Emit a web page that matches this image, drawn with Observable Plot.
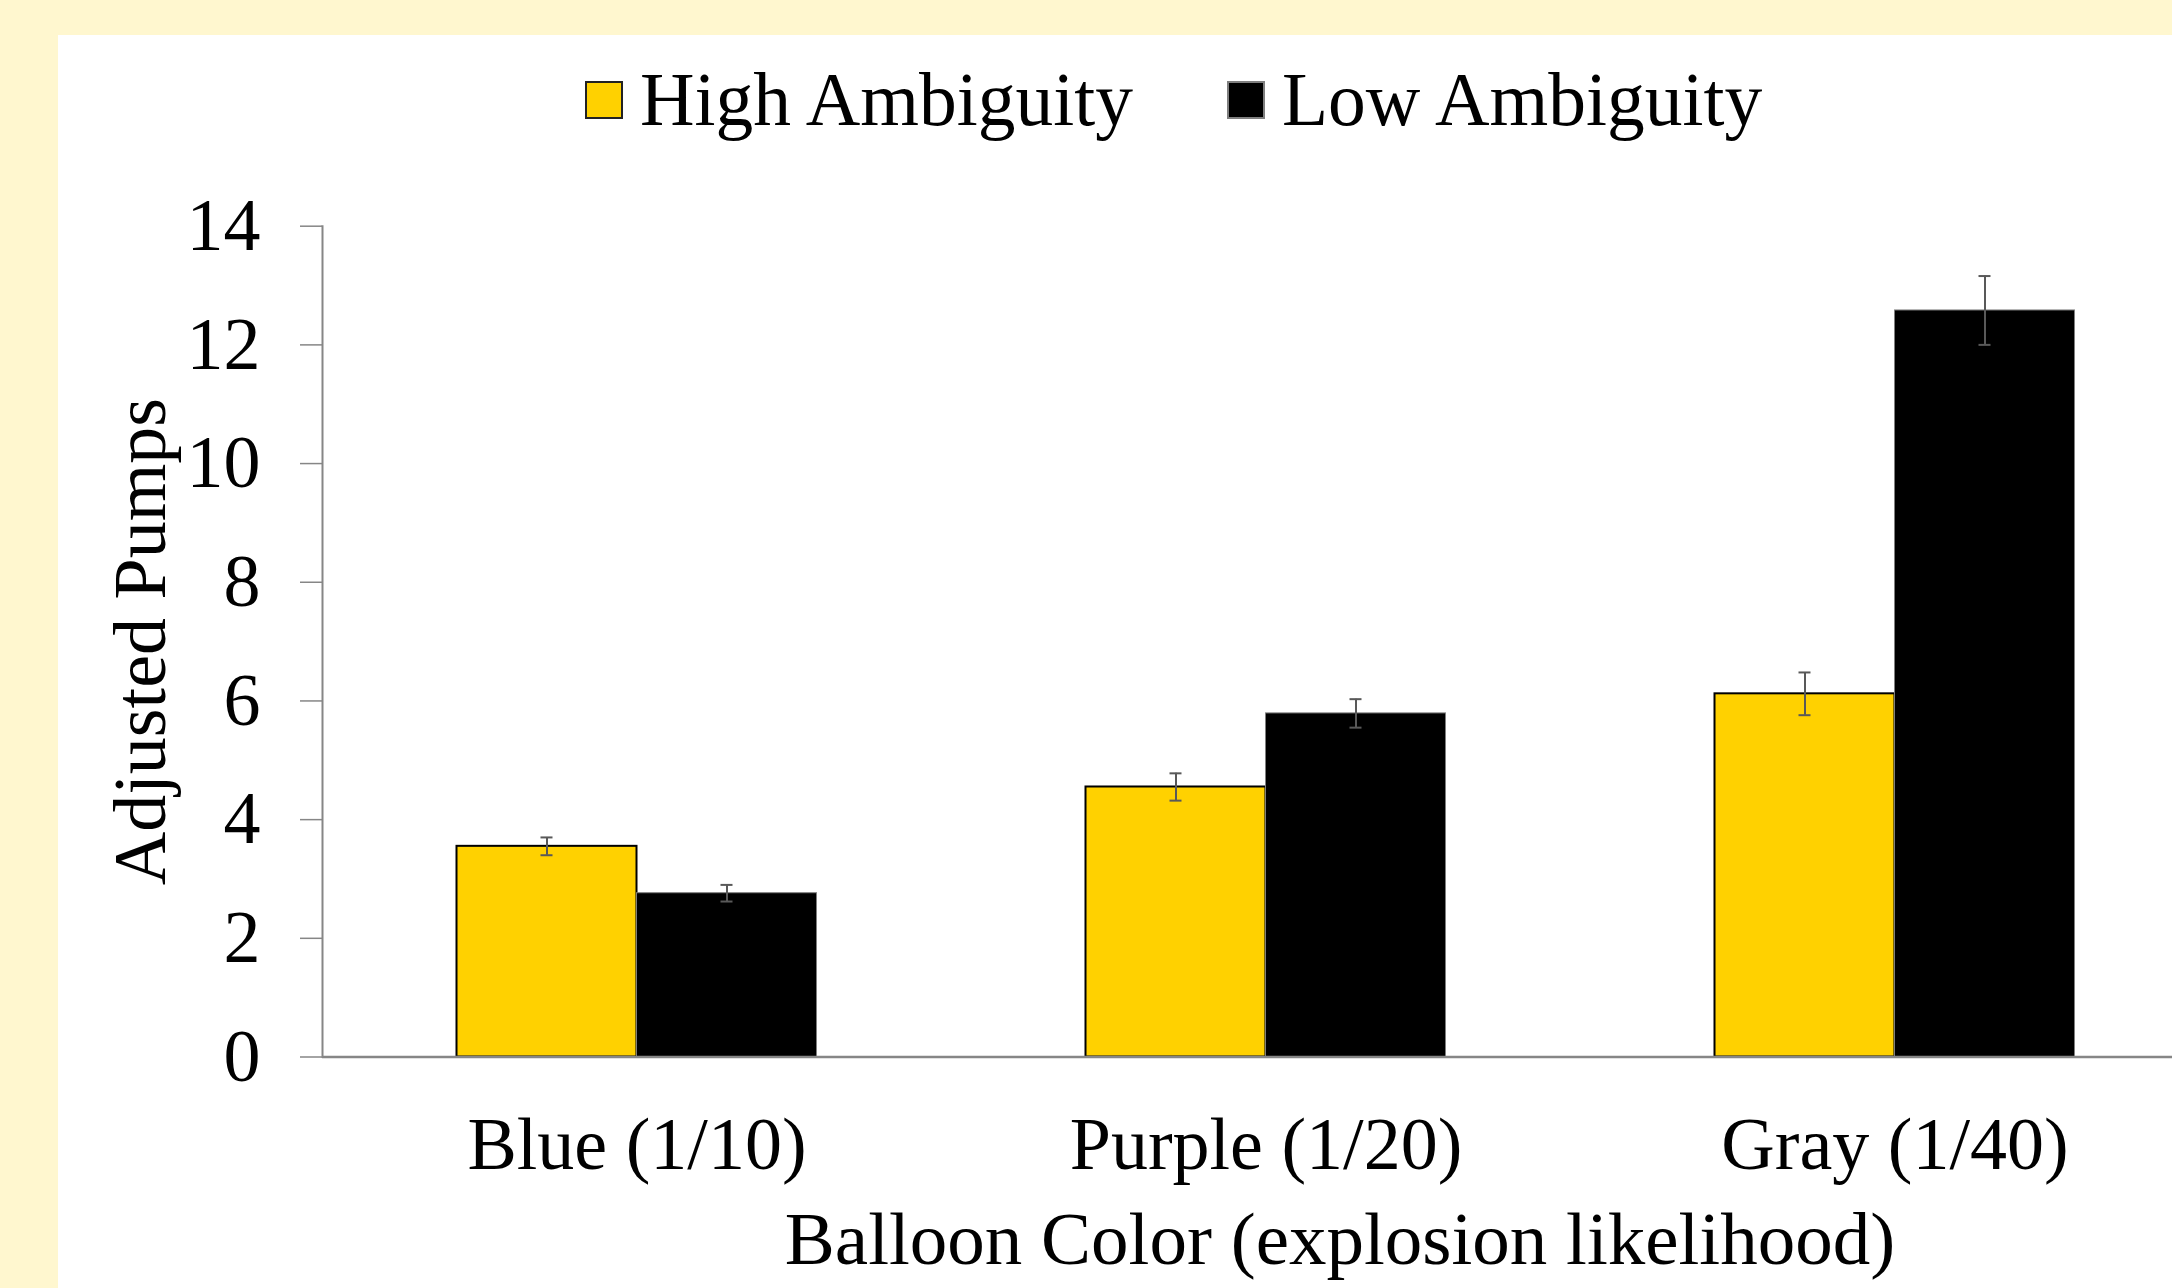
<!DOCTYPE html>
<html>
<head>
<meta charset="utf-8">
<script src="https://cdn.jsdelivr.net/npm/d3@7"></script>
<script src="https://cdn.jsdelivr.net/npm/@observablehq/plot@0.6"></script>
<style>
  html, body { margin: 0; padding: 0; background: #FFF7CF; width: 2172px; height: 1288px; overflow: hidden; }
  #panel { position: absolute; left: 58px; top: 35px; width: 2114px; height: 1253px; background: #fff; overflow: hidden;
           font-family: "Liberation Serif", "Times New Roman", serif; }
  #legend { height: 130px; display: flex; align-items: center; padding-left: 527px; box-sizing: border-box; }
  .item { display: flex; align-items: center; }
  .item + .item { margin-left: 94px; }
  .sw { width: 38px; height: 38px; box-sizing: border-box; margin-right: 17px; }
  .lt { font-size: 75.5px; line-height: 1; color: #000; white-space: nowrap; }
</style>
</head>
<body>
<div id="panel">
  <div id="legend"></div>
  <div id="chart"></div>
</div>
<script>
const categories = ["Blue (1/10)", "Purple (1/20)", "Gray (1/40)"];
const series = ["High Ambiguity", "Low Ambiguity"];
const highValues = [3.55, 4.55, 6.12];
const highErrors = [0.15, 0.23, 0.36];
const lowValues = [2.76, 5.79, 12.58];
const lowErrors = [0.14, 0.24, 0.58];
const yTicks = [0, 2, 4, 6, 8, 10, 12, 14];
const xTitle = "Balloon Color (explosion likelihood)";
const yTitle = "Adjusted Pumps";
const seriesFill = ["#FFD100", "#000000"];
const seriesStroke = ["#000000", "#7F7F7F"];

const rows = categories.flatMap((c, i) => [
  {category: c, series: series[0], value: highValues[i], error: highErrors[i]},
  {category: c, series: series[1], value: lowValues[i], error: lowErrors[i]}
]);
const high = rows.filter(d => d.series === series[0]);
const low = rows.filter(d => d.series === series[1]);

// legend
const legend = document.getElementById("legend");
series.forEach((s, i) => {
  const item = document.createElement("div");
  item.className = "item";
  const sw = document.createElement("div");
  sw.className = "sw";
  sw.style.background = seriesFill[i];
  sw.style.border = "2px solid " + (i === 0 ? "#222" : "#7F7F7F");
  const t = document.createElement("span");
  t.className = "lt";
  t.textContent = s;
  item.appendChild(sw);
  item.appendChild(t);
  legend.appendChild(item);
});

const font = '"Liberation Serif", "Times New Roman", serif';
const errStyle = {stroke: "#595959", strokeWidth: 2};
const axisGray = "#868686";

const chart = Plot.plot({
  width: 2114,
  height: 1123,
  marginTop: 60.7,
  marginBottom: 231.5,
  marginLeft: 263.5,
  marginRight: 0,
  style: {fontFamily: font, background: "white", color: "black", overflow: "hidden"},
  fx: {domain: categories, range: [263.5, 2150.8], padding: 0},
  x: {domain: series, paddingInner: 0, paddingOuter: 0.7425, axis: null},
  y: {domain: [0, 14]},
  color: {domain: series, range: seriesFill},
  marks: [
    Plot.barY(high, {fx: "category", x: "series", y: "value", fill: "series", stroke: seriesStroke[0], strokeWidth: 2}),
    Plot.barY(low, {fx: "category", x: "series", y: "value", fill: "series", stroke: seriesStroke[1], strokeWidth: 1}),
    Plot.ruleY([0], {stroke: axisGray, strokeWidth: 2.5}),
    Plot.frame({anchor: "left", facetAnchor: "left", stroke: axisGray, strokeWidth: 2}),
    Plot.ruleX(rows, {fx: "category", x: "series", y1: d => d.value - d.error, y2: d => d.value + d.error, ...errStyle}),
    Plot.tickY(rows, {fx: "category", x: "series", y: d => d.value - d.error, inset: 84, ...errStyle}),
    Plot.tickY(rows, {fx: "category", x: "series", y: d => d.value + d.error, inset: 84, ...errStyle}),
    Plot.axisY({ticks: yTicks, tickSize: 22, tickPadding: 40, stroke: axisGray, strokeWidth: 1.5, fill: "black", fontSize: 74,
                label: yTitle, labelAnchor: "center", labelOffset: 210, labelArrow: "none"}),
    Plot.axisFx({anchor: "bottom", tickSize: 0, tickPadding: 59, fontSize: 74, fill: "black", label: null}),
    Plot.text([xTitle], {facet: "super", frameAnchor: "bottom", dx: 74, dy: 207, fontSize: 75, fill: "black"})
  ]
});
document.getElementById("chart").appendChild(chart);
</script>
</body>
</html>
